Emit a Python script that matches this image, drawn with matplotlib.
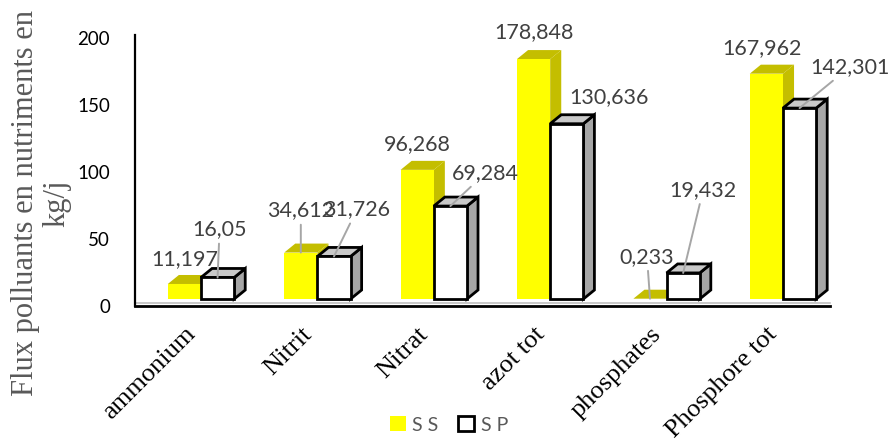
import matplotlib
matplotlib.use("Agg")
import matplotlib.pyplot as plt
import matplotlib.transforms as mtransforms
from matplotlib.patches import Polygon, Rectangle

# ---- data -------------------------------------------------------------
categories = ["ammonium", "Nitrit", "Nitrat", "azot tot", "phosphates", "Phosphore tot"]
series_names = ["S S", "S P"]
ss_values = [11.197, 34.612, 96.268, 178.848, 0.233, 167.962]
sp_values = [16.05, 31.726, 69.284, 130.636, 19.432, 142.301]
ss_labels = ["11,197", "34,612", "96,268", "178,848", "0,233", "167,962"]
sp_labels = ["16,05", "31,726", "69,284", "130,636", "19,432", "142,301"]
y_ticks = [0, 50, 100, 150, 200]
y_title = "Flux polluants en nutriments en\nkg/j"

# ---- style ------------------------------------------------------------
YEL_FRONT, YEL_DARK = "#FFFF00", "#C4BE00"
WHT_FRONT, WHT_TOP, WHT_SIDE = "#FFFFFF", "#C9C9C9", "#A6A6A6"
LABEL_COLOR = "#404040"
LEADER_COLOR = "#A6A6A6"
BAR_W = 0.285          # face width in category units
DEPTH_X = 0.095        # 3-D depth, x direction (category units)
DEPTH_Y = 6.7          # 3-D depth, y direction (value units)

# label offsets (pixels) relative to the top centre of each front face
ss_offsets = [(0, 25), (0, 42), (0, 26), (0, 27), (-3, 42), (-4, 26)]
ss_leader = [False, True, False, False, True, False]
sp_offsets = [(2, 48), (23, 47), (35, 33), (42, 27), (20, 83), (50, 41)]
sp_leader = [True, True, True, False, True, True]

W, H, DPI = 892, 441, 100
fig = plt.figure(figsize=(W / DPI, H / DPI), dpi=DPI)
ax = fig.add_axes([135 / W, (H - 306) / H, 695 / W, 271 / H])
ax.set_xlim(-0.567, 5.404)
ax.set_ylim(0, 202)

# bars sit slightly above the floor line
bar_trans = mtransforms.offset_copy(ax.transData, fig=fig, x=0, y=7, units="dots")


def draw_box(x0, value, front, top, side, edge, lw):
    x1 = x0 + BAR_W
    side_poly = [(x1, 0), (x1 + DEPTH_X, DEPTH_Y), (x1 + DEPTH_X, value + DEPTH_Y), (x1, value)]
    top_poly = [(x0, value), (x0 + DEPTH_X, value + DEPTH_Y), (x1 + DEPTH_X, value + DEPTH_Y), (x1, value)]
    kw = dict(transform=bar_trans, clip_on=False, joinstyle="miter")
    ec = edge if edge else "none"
    ax.add_patch(Polygon(side_poly, closed=True, facecolor=side, edgecolor=ec, lw=lw, **kw))
    ax.add_patch(Polygon(top_poly, closed=True, facecolor=top, edgecolor=ec, lw=lw, **kw))
    ax.add_patch(Rectangle((x0, 0), BAR_W, value, facecolor=front, edgecolor=ec, lw=lw, **kw))


def add_label(text, x, value, offset, leader):
    arrow = dict(arrowstyle="-", color=LEADER_COLOR, lw=1.4, shrinkA=1, shrinkB=0) if leader else None
    ax.annotate(text, xy=(x, value), xycoords=bar_trans,
                xytext=offset, textcoords="offset pixels",
                ha="center", va="center", fontsize=15.5, family="Lato",
                color=LABEL_COLOR, arrowprops=arrow, annotation_clip=False, zorder=5)


for i, (ss, sp) in enumerate(zip(ss_values, sp_values)):
    draw_box(i - BAR_W, ss, YEL_FRONT, YEL_DARK, YEL_DARK, None, 0)
    draw_box(i, sp, WHT_FRONT, WHT_TOP, WHT_SIDE, "black", 2.0)
    add_label(ss_labels[i], i - BAR_W / 2, ss, ss_offsets[i], ss_leader[i])
    add_label(sp_labels[i], i + BAR_W / 2, sp, sp_offsets[i], sp_leader[i])

# floor edge
floor_trans = mtransforms.offset_copy(ax.transData, fig=fig, x=0, y=3, units="dots")
ax.plot(ax.get_xlim(), [0, 0], color="#BFBFBF", lw=1.2, transform=floor_trans, clip_on=False)

for s in ("top", "right"):
    ax.spines[s].set_visible(False)
ax.spines["left"].set_linewidth(1.6)
ax.spines["bottom"].set_linewidth(2.0)

ax.set_yticks(y_ticks)
ax.set_yticklabels([str(t) for t in y_ticks], family="Lato", fontsize=13.5, color="black")
ax.tick_params(axis="y", length=0, pad=18)

ax.set_xticks(range(len(categories)))
ax.set_xticklabels(categories, family="Liberation Serif", fontsize=19, rotation=45,
                   ha="right", va="center", rotation_mode="anchor")
ax.tick_params(axis="x", length=0, pad=18)
shift = mtransforms.ScaledTranslation(-9 / DPI, 0, fig.dpi_scale_trans)
for lbl in ax.get_xticklabels():
    lbl.set_transform(lbl.get_transform() + shift)

fig.text(41 / W, 1 - 203 / H, y_title, rotation=90, ha="center", va="center",
         multialignment="center", family="Liberation Serif", fontsize=22,
         color="#595959", linespacing=1.1)

handles = [Rectangle((0, 0), 1, 1, facecolor=YEL_FRONT, edgecolor="none"),
           Rectangle((0, 0), 1, 1, facecolor="white", edgecolor="black", lw=2)]
leg = fig.legend(handles, series_names, loc="center", bbox_to_anchor=(449 / W, 1 - 425 / H),
                 ncol=2, frameon=False, handlelength=0.8, handleheight=0.8,
                 handletextpad=0.35, columnspacing=1.0,
                 prop=dict(family="Lato", size=14))
for t in leg.get_texts():
    t.set_color("#595959")

fig.savefig("out.png", dpi=DPI)
